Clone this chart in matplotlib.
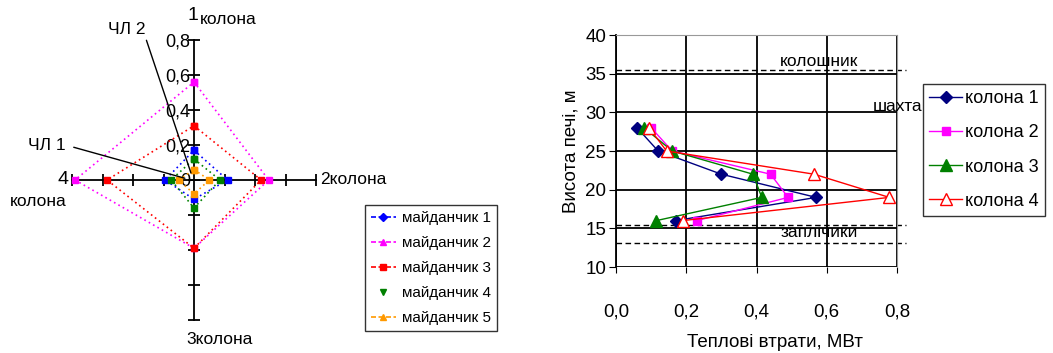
import matplotlib
matplotlib.use("Agg")
import matplotlib.pyplot as plt

plt.rcParams['font.family'] = ['Liberation Sans', 'DejaVu Sans']

# --- radar data: values on columns 1 (up), 2 (right), 3 (down), 4 (left)
radar_names = ['майданчик 1', 'майданчик 2', 'майданчик 3', 'майданчик 4', 'майданчик 5']
radar_colors = ['#0000FF', '#FF00FF', '#FF0000', '#008000', '#FF9900']
radar_legend_markers = ['D', '^', 's', 'v', '^']
m1 = [0.17, 0.22, 0.11, 0.19]
m2 = [0.56, 0.49, 0.39, 0.78]
m3 = [0.31, 0.44, 0.39, 0.57]
m4 = [0.12, 0.17, 0.16, 0.15]
m5 = [0.06, 0.10, 0.08, 0.10]
radar_values = [m1, m2, m3, m4, m5]
radar_ticks = [0.2, 0.4, 0.6, 0.8]
radar_tick_labels = ['0,2', '0,4', '0,6', '0,8']

# --- heat loss data
heights = [28, 25, 22, 19, 16]
col1 = [0.06, 0.12, 0.30, 0.57, 0.17]
col2 = [0.10, 0.16, 0.44, 0.49, 0.23]
col3 = [0.08, 0.16, 0.39, 0.415, 0.115]
col4 = [0.094, 0.144, 0.564, 0.778, 0.19]
col_names = ['колона 1', 'колона 2', 'колона 3', 'колона 4']
zone_levels = [35.5, 15.4, 13.1]

W, H = 1053, 353
fig = plt.figure(figsize=(W / 100, H / 100), dpi=100)


def box(x0, y0, x1, y1):
    return [x0 / W, 1 - y1 / H, (x1 - x0) / W, (y1 - y0) / H]


# ================= radar (drawn on cartesian axes) =================
ax = fig.add_axes(box(72, 40, 316, 320))
ax.set_xlim(-0.8, 0.8)
ax.set_ylim(-0.8, 0.8)
for s in ['top', 'right']:
    ax.spines[s].set_visible(False)
ax.spines['left'].set_position('zero')
ax.spines['bottom'].set_position('zero')
ax.spines['left'].set_linewidth(1.3)
ax.spines['bottom'].set_linewidth(1.3)
ax.set_xticks([-t for t in radar_ticks] + radar_ticks)
ax.set_xticklabels([])
ax.set_yticks([-t for t in radar_ticks] + [0] + radar_ticks)
ax.set_yticklabels([''] * 4 + ['0'] + radar_tick_labels, fontsize=13)
ax.tick_params(axis='both', direction='inout', length=9, width=1.3)
ax.tick_params(axis='y', pad=-2)
ax.patch.set_alpha(0)

handles = []
for vals, c, name, mk in zip(radar_values, radar_colors, radar_names, radar_legend_markers):
    xs = [0, vals[1], 0, -vals[3], 0]
    ys = [vals[0], 0, -vals[2], 0, vals[0]]
    ax.plot(xs, ys, linestyle=(0, (1, 2)), color=c, lw=1.2, marker='s',
            markersize=4, clip_on=False, zorder=3)
    ls = 'none' if name == 'майданчик 4' else (0, (3, 1.5))
    h, = ax.plot([], [], linestyle=ls, color=c, marker=mk, markersize=4, lw=1.2, label=name)
    handles.append(h)

fs = 12.5
fig.text(187 / W, 1 - 16 / H, '1', fontsize=14, va='center')
fig.text(200 / W, 1 - 20 / H, 'колона', fontsize=fs, va='center')
fig.text(320 / W, 1 - 180 / H, '2колона', fontsize=fs, va='center')
fig.text(186 / W, 1 - 340 / H, '3колона', fontsize=fs, va='center')
fig.text(57 / W, 1 - 180 / H, '4', fontsize=14, va='center')
fig.text(10 / W, 1 - 202 / H, 'колона', fontsize=fs, va='center')

ax.annotate('ЧЛ 2', xy=(-0.02, 0.04), xycoords='data', xytext=(108 / W, 1 - 30 / H),
            textcoords='figure fraction', fontsize=fs, va='center',
            arrowprops=dict(arrowstyle='-', color='black', lw=1, shrinkA=0, shrinkB=0,
                            relpos=(1.0, 0.0)))
ax.annotate('ЧЛ 1', xy=(-0.06, 0.01), xycoords='data', xytext=(28 / W, 1 - 145 / H),
            textcoords='figure fraction', fontsize=fs, va='center',
            arrowprops=dict(arrowstyle='-', color='black', lw=1, shrinkA=4, shrinkB=0,
                            relpos=(1.0, 0.5)))

leg = fig.legend(handles=handles, loc='upper left', bbox_to_anchor=(365 / W, 1 - 205 / H),
                 fontsize=11, frameon=True, fancybox=False, handlelength=1.6,
                 handletextpad=0.4, borderpad=0.4, labelspacing=0.72, borderaxespad=0)
leg.get_frame().set_edgecolor('black')
leg.get_frame().set_linewidth(1)

# ================= heat loss chart =================
bx = fig.add_axes(box(616, 35, 897, 267))
bx.set_xlim(0, 0.8)
bx.set_ylim(10, 40)
bx.set_xticks([0, 0.2, 0.4, 0.6, 0.8])
bx.set_xticklabels(['0,0', '0,2', '0,4', '0,6', '0,8'], fontsize=13.5)
bx.set_yticks([10, 15, 20, 25, 30, 35, 40])
bx.set_yticklabels(['10', '15', '20', '25', '30', '35', '40'], fontsize=13.5)
bx.tick_params(axis='x', pad=22, length=4)
bx.tick_params(axis='y', length=5, pad=2)
bx.grid(True, color='black', lw=1.3)
bx.spines['left'].set_linewidth(1.3)
bx.spines['bottom'].set_visible(False)
bx.spines['top'].set_color('#999999')
bx.spines['right'].set_color('#999999')

for lvl in zone_levels:
    bx.hlines(lvl, 0, 0.825, colors='black', linestyles=(0, (4, 2.5)), lw=1, clip_on=False)
bx.text(0.578, 36.6, 'колошник', fontsize=12.5, ha='center', va='center')
bx.text(0.73, 30.7, 'шахта', fontsize=12.5, ha='left', va='center', clip_on=False)
bx.text(0.578, 14.5, 'заплічики', fontsize=12.5, ha='center', va='center')

bx.plot(col1, heights, color='#000080', marker='D', markersize=6, lw=1, label=col_names[0])
bx.plot(col2, heights, color='#FF00FF', marker='s', markersize=6, lw=1, label=col_names[1])
bx.plot(col3, heights, color='#008000', marker='^', markersize=8, lw=1, label=col_names[2])
bx.plot(col4, heights, color='#FF0000', marker='^', markersize=8, lw=1,
        markerfacecolor='white', label=col_names[3])

bx.set_ylabel('Висота печі, м', fontsize=13.5, labelpad=4)
bx.set_xlabel('Теплові втрати, МВт', fontsize=13.5)
bx.xaxis.set_label_coords(0.566, -0.29)

leg2 = fig.legend(loc='upper left', bbox_to_anchor=(923 / W, 1 - 84 / H), fontsize=13,
                  frameon=True, fancybox=False, handlelength=1.8, handletextpad=0.2,
                  borderpad=0.35, labelspacing=0.95, borderaxespad=0,
                  handles=bx.get_lines()[-4:])
leg2.get_frame().set_edgecolor('black')
leg2.get_frame().set_linewidth(1)

fig.savefig('out.png', dpi=100)
